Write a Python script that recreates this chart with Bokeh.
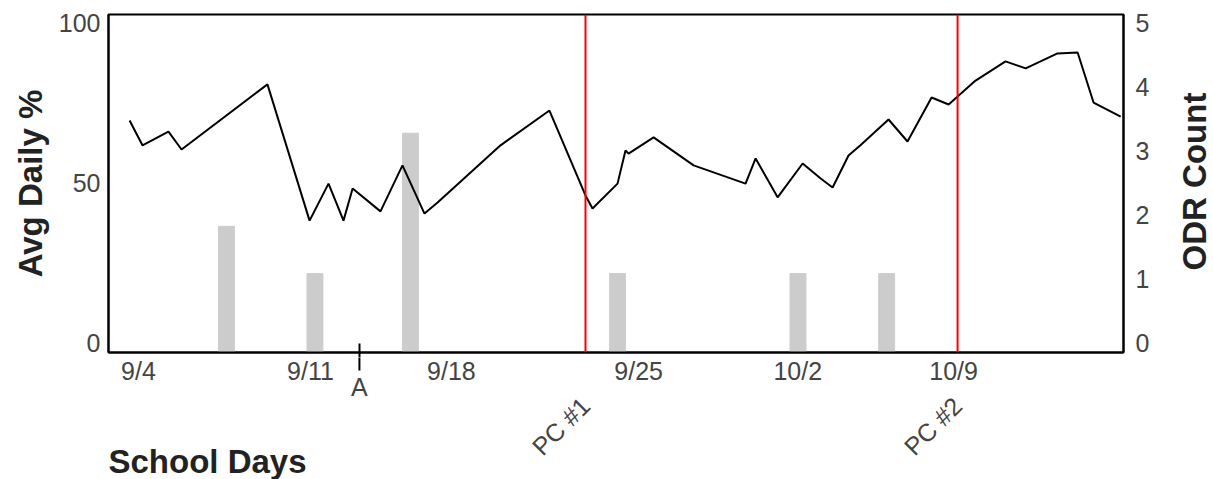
import math
from bokeh.plotting import figure
from bokeh.layouts import column, row
from bokeh.models import Range1d, LinearAxis, FixedTicker, Span
from bokeh.core.properties import value
from bokeh.embed import file_html
from bokeh.resources import INLINE

# ---- data (x = days since 9/4) ----
day_x = [-0.38, 0.17, 1.28, 1.84, 5.51, 7.31, 8.12, 8.76, 9.15, 10.34, 11.28, 12.22,
         12.78, 15.47, 17.56, 19.10, 19.40, 20.47, 20.81, 20.94, 22.01, 23.72, 25.94,
         26.37, 27.31, 28.38, 29.15, 29.66, 30.34, 30.85, 32.05, 32.86, 33.89, 34.62,
         35.00, 35.77, 37.05, 37.91, 39.27, 40.13, 40.81, 41.97]
avg_pct = [69.6, 61.8, 66.1, 60.5, 80.9, 38.2, 49.8, 38.2, 48.3, 41.1, 55.5, 40.4,
           43.9, 61.8, 72.7, 46.1, 42.0, 49.8, 60.2, 59.2, 64.3, 55.5, 49.8,
           57.7, 45.5, 56.1, 51.4, 48.6, 58.6, 61.8, 69.9, 63.0, 76.8, 74.6,
           77.1, 82.1, 88.1, 85.9, 90.6, 90.9, 75.2, 70.8]

odr_day = [3.76, 7.54, 11.62, 20.47, 28.18, 31.97]
odr_count = [1.82, 1.08, 3.28, 1.08, 1.08, 1.08]

tick_days = [0.0, 7.35, 13.37, 21.37, 28.17, 34.83]
tick_labels = ["9/4", "9/11", "9/18", "9/25", "10/2", "10/9"]

pc_days = [19.1, 35.0]
pc_labels = ["PC #1", "PC #2"]

a_days = [9.44]
a_labels = ["A"]

left_ticks = [0, 50, 100]
right_ticks = [0, 1, 2, 3, 4, 5]

FONT = "Liberation Sans"
TICK_COLOR = "#444444"
TITLE_COLOR = "#222222"
TITLE_SIZE = "33px"

W_MAIN = 1168
W_SIDE = 45
x_lo, x_hi = -1.282, 42.09
y_lo, y_hi = -3.13, 102.8
r_lo, r_hi = y_lo / 20.0, y_hi / 20.0
xr = Range1d(x_lo, x_hi)

# ---------------- main plot ----------------
p = figure(width=W_MAIN, height=357, output_backend="svg", toolbar_location=None,
           x_range=xr, y_range=Range1d(y_lo, y_hi),
           min_border_left=108, min_border_right=45, min_border_top=14,
           min_border_bottom=5)
p.extra_y_ranges = {"odr": Range1d(r_lo, r_hi)}
p.xgrid.visible = False
p.ygrid.visible = False
p.outline_line_color = "black"
p.outline_line_width = 2
p.background_fill_color = "white"
p.border_fill_color = "white"

p.vbar(x=odr_day, top=odr_count, bottom=r_lo, width=0.68, color="#cccccc",
       y_range_name="odr")
p.line(day_x, avg_pct, color="black", line_width=2)

for d in pc_days:
    p.add_layout(Span(location=d, dimension="height", line_color="red", line_width=2))

# x axis: only carries the "A" tick mark
xa = p.xaxis[0]
xa.ticker = FixedTicker(ticks=[], minor_ticks=a_days)
xa.major_tick_line_color = None
xa.major_tick_out = 0
xa.major_tick_in = 0
xa.major_label_standoff = 0
xa.minor_tick_line_color = "black"
xa.minor_tick_line_width = 2
xa.minor_tick_in = 9
xa.minor_tick_out = 5
xa.axis_line_color = "black"
xa.axis_line_width = 2

ya = p.yaxis[0]
ya.ticker = FixedTicker(ticks=left_ticks)
ya.major_tick_line_color = None
ya.minor_tick_line_color = None
ya.major_tick_out = 0
ya.major_tick_in = 0
ya.axis_line_color = "black"
ya.axis_line_width = 2
ya.major_label_standoff = 8
ya.major_label_text_font = FONT
ya.major_label_text_font_size = "25px"
ya.major_label_text_color = TICK_COLOR
ya.axis_label = "Avg Daily %"
ya.axis_label_text_font = FONT
ya.axis_label_text_font_size = TITLE_SIZE
ya.axis_label_text_font_style = "bold"
ya.axis_label_text_color = TITLE_COLOR
ya.axis_label_standoff = 7

ra = LinearAxis(y_range_name="odr", ticker=FixedTicker(ticks=right_ticks))
ra.major_tick_line_color = None
ra.minor_tick_line_color = None
ra.major_tick_out = 0
ra.major_tick_in = 0
ra.axis_line_color = "black"
ra.axis_line_width = 2
ra.major_label_standoff = 12
ra.major_label_text_font = FONT
ra.major_label_text_font_size = "25px"
ra.major_label_text_color = TICK_COLOR
p.add_layout(ra, "right")

# ---------------- strip below the axis (y = pixels relative to axis line) ----------------
q = figure(width=W_MAIN, height=122, output_backend="svg", toolbar_location=None,
           x_range=xr, y_range=Range1d(-127, -5), x_axis_location=None,
           y_axis_location=None, min_border_left=108, min_border_right=45,
           min_border_top=0, min_border_bottom=0)
q.xgrid.visible = False
q.ygrid.visible = False
q.outline_line_color = None
q.background_fill_color = "white"
q.border_fill_color = "white"

# date tick labels
q.text(x=tick_days, y=[-18] * len(tick_days), text=tick_labels, text_align="center",
       text_baseline="middle", text_font=value(FONT), text_font_size="25px",
       text_color=TICK_COLOR)

# lower part of the "A" tick and its label
q.segment(x0=a_days, y0=[-4], x1=a_days, y1=[-18], line_color="black", line_width=2)
q.text(x=a_days, y=[-34], text=a_labels, text_align="center", text_baseline="middle",
       text_font=value(FONT), text_font_size="25px", text_color=TICK_COLOR)

# phase-change labels
q.text(x=pc_days, y=[-49] * len(pc_days), text=pc_labels, angle=math.pi / 4,
       text_align="right", text_baseline="middle", text_font=value(FONT),
       text_font_size="25px", text_color=TICK_COLOR)

# x-axis title
q.text(x=[x_lo], y=[-109], text=["School Days"], text_align="left",
       text_baseline="middle", text_font=value(FONT), text_font_size=TITLE_SIZE,
       text_font_style="bold", text_color=TITLE_COLOR)

# ---------------- right strip for the right-axis title ----------------
r = figure(width=W_SIDE, height=479, output_backend="svg", toolbar_location=None,
           x_range=Range1d(0, W_SIDE), y_range=Range1d(0, 479), x_axis_location=None,
           y_axis_location=None, min_border_left=0, min_border_right=0,
           min_border_top=0, min_border_bottom=0)
r.xgrid.visible = False
r.ygrid.visible = False
r.outline_line_color = None
r.background_fill_color = "white"
r.border_fill_color = "white"
r.text(x=[25.5], y=[298], text=["ODR Count"], angle=math.pi / 2, text_align="center",
       text_baseline="middle", text_font=value(FONT), text_font_size=TITLE_SIZE,
       text_font_style="bold", text_color=TITLE_COLOR)

layout = row(column(p, q, spacing=0), r, spacing=0)
open("out.html", "w").write(file_html(layout, INLINE))
